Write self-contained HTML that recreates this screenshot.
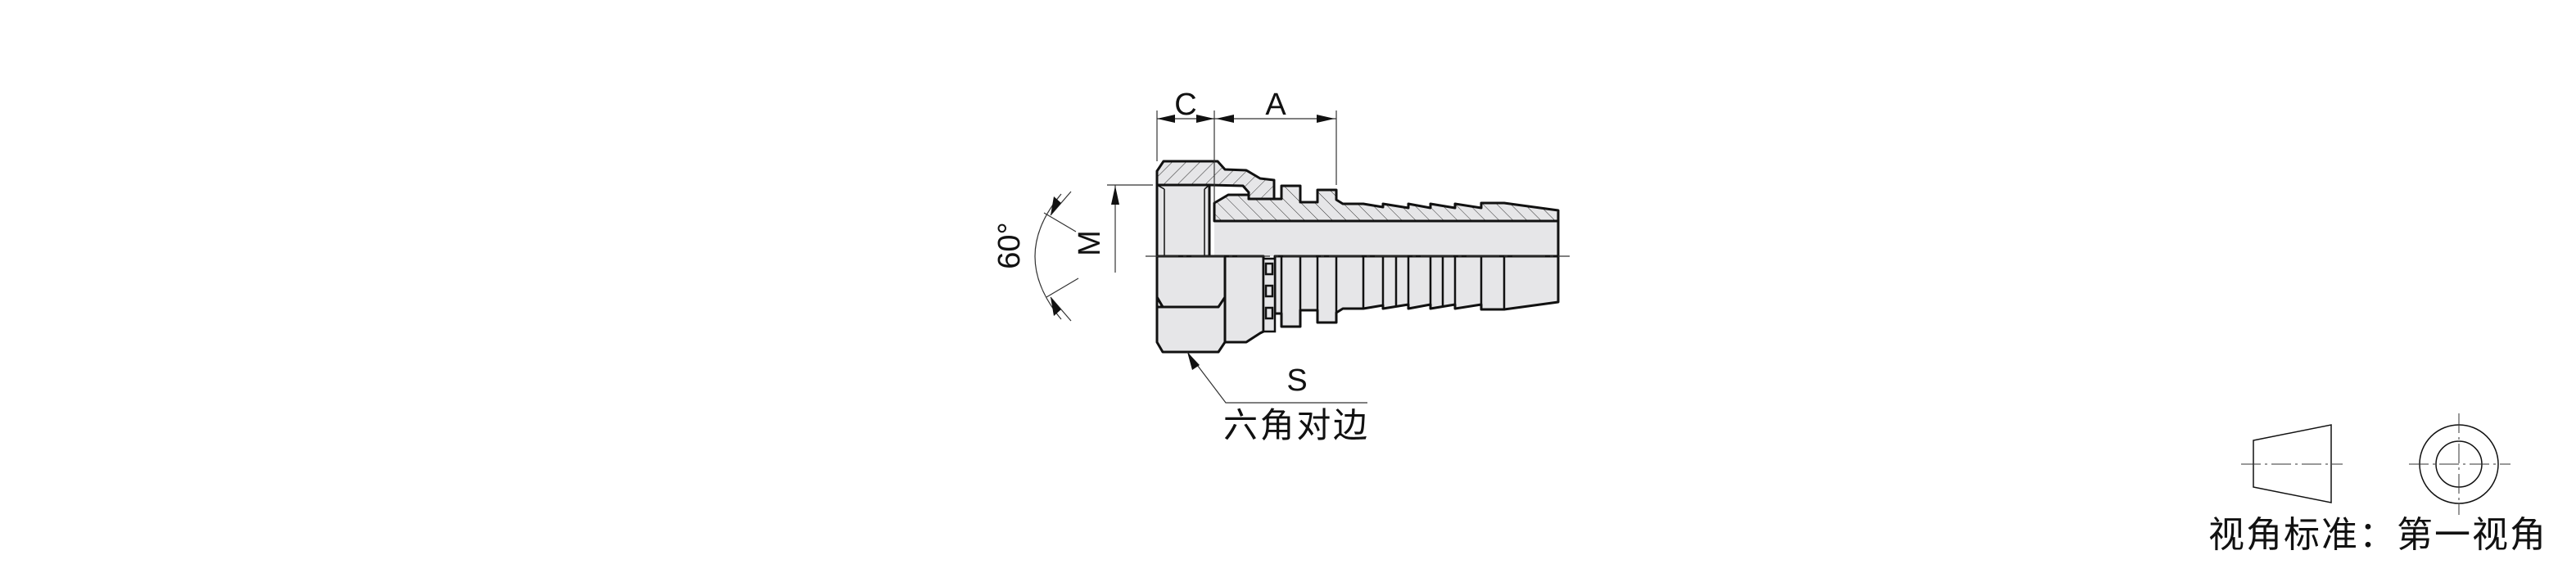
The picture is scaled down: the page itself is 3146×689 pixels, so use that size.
<!DOCTYPE html>
<html><head><meta charset="utf-8"><style>
html,body{margin:0;padding:0;background:#fff;}
svg{display:block;}
text{font-family:"Liberation Sans","Noto Sans CJK SC",sans-serif;fill:#111;}
</style></head><body>
<svg width="3146" height="689" viewBox="0 0 3146 689" xmlns="http://www.w3.org/2000/svg">
<defs>
<pattern id="h1" width="12" height="12" patternUnits="userSpaceOnUse" patternTransform="rotate(45)">
<rect width="12" height="12" fill="#e6e6e8"/><line x1="0" y1="0" x2="0" y2="12" stroke="#333" stroke-width="1"/></pattern>
<pattern id="h2" width="12" height="12" patternUnits="userSpaceOnUse" patternTransform="rotate(-45)">
<rect width="12" height="12" fill="#e6e6e8"/><line x1="0" y1="0" x2="0" y2="12" stroke="#333" stroke-width="1"/></pattern>
</defs>

<!-- body lower half fill + bore -->
<g stroke="#111" stroke-width="3" stroke-linejoin="round" fill="#e6e6e8">
<!-- bore region upper -->
<rect x="1483" y="270" width="420" height="43" stroke="none"/>
<!-- lower body -->
<polygon points="1557,313 1557,383 1565,383 1565,399 1588,399 1588,379 1609,379 1609,394 1632,394 1632,382 1640,377 1665,377 1689,373 1689,377 1720,372 1720,377 1747,372 1747,377 1777,372 1777,377 1809,372 1809,378 1837,378 1903,369 1903,313"/>
<!-- upper body hatched -->
<polygon fill="url(#h2)" points="1483,270 1483,248 1500,238 1525,238 1525,243 1565,243 1565,227 1588,227 1588,247 1609,247 1609,232 1632,232 1632,244 1640,249 1665,249 1689,253 1689,249 1720,254 1720,249 1747,254 1747,249 1777,254 1777,249 1809,254 1809,248 1837,248 1903,257 1903,270"/>
<line x1="1903" y1="270" x2="1903" y2="313"/>
<!-- nut upper hatched -->
<polygon fill="url(#h1)" points="1413,209 1421,197 1487,197 1496,207 1522,208 1539,218 1556,220 1556,243 1525,243 1525,235 1518,227 1477,226 1413,226"/>
<!-- hex upper face -->
<rect x="1413" y="226" width="64" height="87" stroke="none"/>
<polyline fill="none" points="1413,209 1413,313"/>
<line x1="1477" y1="226" x2="1477" y2="313"/>
<line x1="1413" y1="226" x2="1477" y2="226"/>
<!-- hex lower -->
<polygon points="1413,313 1413,363 1420,375 1413,375 1413,418 1420,430 1488,430 1496,418 1522,418 1539,407 1543,405 1543,313"/>
<polyline fill="none" points="1413,363 1420,375 1488,375 1496,363"/>
<line x1="1413" y1="363" x2="1413" y2="418"/>
<line x1="1496" y1="313" x2="1496" y2="418"/>
</g>
<!-- thin lines -->
<g stroke="#111" stroke-width="1.5" fill="none">
<line x1="1422" y1="231" x2="1422" y2="313"/>
<line x1="1471" y1="231" x2="1471" y2="313"/>
<line x1="1413" y1="226" x2="1422" y2="231"/>
<line x1="1477" y1="226" x2="1471" y2="231"/>
</g>
<g stroke="#111" stroke-width="2.5" fill="none">
<line x1="1565" y1="313" x2="1565" y2="399"/>
<line x1="1588" y1="313" x2="1588" y2="399"/>
<line x1="1609" y1="313" x2="1609" y2="394"/>
<line x1="1632" y1="313" x2="1632" y2="394"/>
<line x1="1665" y1="313" x2="1665" y2="377"/>
<line x1="1689" y1="313" x2="1689" y2="377"/>
<line x1="1705" y1="313" x2="1705" y2="375"/>
<line x1="1720" y1="313" x2="1720" y2="377"/>
<line x1="1747" y1="313" x2="1747" y2="377"/>
<line x1="1762" y1="313" x2="1762" y2="375"/>
<line x1="1777" y1="313" x2="1777" y2="377"/>
<line x1="1809" y1="313" x2="1809" y2="378"/>
<line x1="1837" y1="313" x2="1837" y2="378"/>
<line x1="1483" y1="270" x2="1903" y2="270" stroke-width="3"/>
<!-- o-ring -->
<rect x="1543" y="316" width="14" height="89" fill="#e6e6e8"/>
<rect x="1546" y="322" width="8" height="13"/>
<rect x="1546" y="349" width="8" height="13"/>
<rect x="1546" y="376" width="8" height="13"/>
</g>
<!-- centerline -->
<line x1="1399" y1="313" x2="1917" y2="313" stroke="#333" stroke-width="1.2" stroke-dasharray="40,6,4,6"/>

<!-- dimensions -->
<g stroke="#333" stroke-width="1.2" fill="none">
<line x1="1413" y1="135" x2="1413" y2="197"/>
<line x1="1483" y1="135" x2="1483" y2="248"/>
<line x1="1632" y1="135" x2="1632" y2="226"/>
<line x1="1413" y1="145" x2="1632" y2="145"/>
<line x1="1352" y1="226" x2="1408" y2="226"/>
<line x1="1362" y1="226" x2="1362" y2="333"/>
<path d="M1296,237 Q1232,313 1296,390"/>
<line x1="1275" y1="260" x2="1314" y2="283"/>
<line x1="1317" y1="340" x2="1278" y2="363"/>
<line x1="1283" y1="263" x2="1308" y2="234"/>
<line x1="1283" y1="363" x2="1308" y2="392"/>
<polyline points="1450,430 1497,492 1670,492"/>
</g>
<g fill="#111">
<polygon points="1413,145 1435,140 1435,150"/>
<polygon points="1483,145 1461,140 1461,150"/>
<polygon points="1485,145 1507,140 1507,150"/>
<polygon points="1630,145 1608,140 1608,150"/>
<polygon points="1362,227 1357,250 1367,250"/>
<polygon points="1283,263 1287,240 1296,248"/>
<polygon points="1283,363 1287,386 1296,378"/>
<polygon points="1450,430 1456,452 1465,446"/>
</g>
<text x="1448" y="140" font-size="38" text-anchor="middle">C</text>
<text x="1558" y="140" font-size="38" text-anchor="middle">A</text>
<text x="1356" y="310" font-size="38" text-anchor="middle" transform="rotate(-90 1343 310)">M</text>
<text x="1258" y="313" font-size="38" text-anchor="middle" transform="rotate(-90 1245 313)">60°</text>
<text x="1584" y="477" font-size="38" text-anchor="middle">S</text>
<text x="1494" y="534" font-size="42" textLength="176">六角对边</text>

<!-- legend -->
<g stroke="#111" stroke-width="1.5" fill="none">
<polygon points="2752,538 2847,519 2847,614 2752,595"/>
<circle cx="3003" cy="567" r="48"/>
<circle cx="3003" cy="567" r="28"/>
</g>
<g stroke="#333" stroke-width="1" stroke-dasharray="24,5,3,5">
<line x1="2737" y1="567" x2="2861" y2="567"/>
<line x1="2942" y1="567" x2="3066" y2="567"/>
<line x1="3003" y1="505" x2="3003" y2="629"/>
</g>
<text x="2697" y="668" font-size="44" textLength="412">视角标准：第一视角</text>
</svg>
</body></html>
